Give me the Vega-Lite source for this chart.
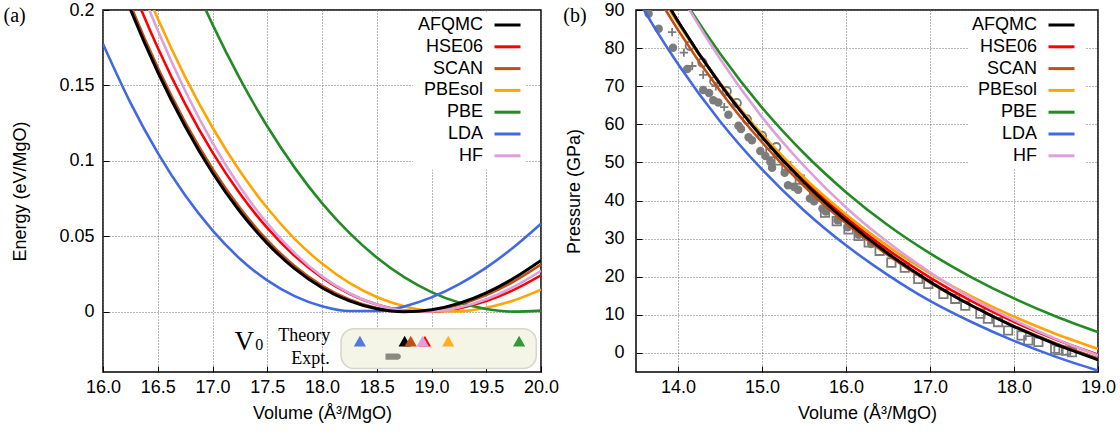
{
"$schema":"https://vega.github.io/schema/vega-lite/v6.json",
"background":"white",
"padding":{"left":2,"top":0,"right":4,"bottom":4},
"spacing":2,
"config":{
 "font":"Liberation Sans",
 "view":{"stroke":"#000","strokeWidth":1.5},
 "axis":{"grid":true,"gridColor":"#707070","gridDash":[1,2],"gridWidth":1,"gridOpacity":1,"domain":false,"ticks":true,"tickSize":-6,"tickColor":"#000","tickWidth":1,"labelFontSize":18,"titleFontSize":18,"labelColor":"#000","titleColor":"#000","titleFontWeight":"normal","labelFlush":false,"labelOverlap":false,"labelFont":"Liberation Sans","titleFont":"Liberation Sans"},
 "axisX":{"labelPadding":12,"titlePadding":8}
},
"datasets":{
 "energy":[
  {"method":"AFQMC","V":16,"E":0.2481},{"method":"AFQMC","V":16.25,"E":0.2005},{"method":"AFQMC","V":16.5,"E":0.1589},{"method":"AFQMC","V":16.75,"E":0.1229},{"method":"AFQMC","V":17,"E":0.0921},{"method":"AFQMC","V":17.25,"E":0.0664},{"method":"AFQMC","V":17.5,"E":0.0453},{"method":"AFQMC","V":17.75,"E":0.0285},{"method":"AFQMC","V":18,"E":0.0159},{"method":"AFQMC","V":18.25,"E":0.0071},{"method":"AFQMC","V":18.5,"E":0.0019},{"method":"AFQMC","V":18.75,"E":0.0},{"method":"AFQMC","V":19,"E":0.0013},{"method":"AFQMC","V":19.25,"E":0.0055},{"method":"AFQMC","V":19.5,"E":0.0125},{"method":"AFQMC","V":19.75,"E":0.0221},{"method":"AFQMC","V":20,"E":0.034},
  {"method":"HSE06","V":16,"E":0.2663},{"method":"HSE06","V":16.25,"E":0.2178},{"method":"HSE06","V":16.5,"E":0.175},{"method":"HSE06","V":16.75,"E":0.1377},{"method":"HSE06","V":17,"E":0.1056},{"method":"HSE06","V":17.25,"E":0.0783},{"method":"HSE06","V":17.5,"E":0.0555},{"method":"HSE06","V":17.75,"E":0.037},{"method":"HSE06","V":18,"E":0.0226},{"method":"HSE06","V":18.25,"E":0.0119},{"method":"HSE06","V":18.5,"E":0.0047},{"method":"HSE06","V":18.75,"E":0.0009},{"method":"HSE06","V":19,"E":0.0001},{"method":"HSE06","V":19.25,"E":0.0022},{"method":"HSE06","V":19.5,"E":0.007},{"method":"HSE06","V":19.75,"E":0.0144},{"method":"HSE06","V":20,"E":0.0241},
  {"method":"SCAN","V":16,"E":0.251},{"method":"SCAN","V":16.25,"E":0.2035},{"method":"SCAN","V":16.5,"E":0.1618},{"method":"SCAN","V":16.75,"E":0.1257},{"method":"SCAN","V":17,"E":0.0948},{"method":"SCAN","V":17.25,"E":0.0688},{"method":"SCAN","V":17.5,"E":0.0474},{"method":"SCAN","V":17.75,"E":0.0303},{"method":"SCAN","V":18,"E":0.0173},{"method":"SCAN","V":18.25,"E":0.0081},{"method":"SCAN","V":18.5,"E":0.0024},{"method":"SCAN","V":18.75,"E":0.0001},{"method":"SCAN","V":19,"E":0.0009},{"method":"SCAN","V":19.25,"E":0.0046},{"method":"SCAN","V":19.5,"E":0.011},{"method":"SCAN","V":19.75,"E":0.02},{"method":"SCAN","V":20,"E":0.0313},
  {"method":"PBEsol","V":16,"E":0.2877},{"method":"PBEsol","V":16.25,"E":0.2382},{"method":"PBEsol","V":16.5,"E":0.1943},{"method":"PBEsol","V":16.75,"E":0.1557},{"method":"PBEsol","V":17,"E":0.1221},{"method":"PBEsol","V":17.25,"E":0.0932},{"method":"PBEsol","V":17.5,"E":0.0687},{"method":"PBEsol","V":17.75,"E":0.0483},{"method":"PBEsol","V":18,"E":0.0319},{"method":"PBEsol","V":18.25,"E":0.0191},{"method":"PBEsol","V":18.5,"E":0.0097},{"method":"PBEsol","V":18.75,"E":0.0036},{"method":"PBEsol","V":19,"E":0.0005},{"method":"PBEsol","V":19.25,"E":0.0002},{"method":"PBEsol","V":19.5,"E":0.0026},{"method":"PBEsol","V":19.75,"E":0.0074},{"method":"PBEsol","V":20,"E":0.0146},
  {"method":"PBE","V":16.5,"E":0.2769},{"method":"PBE","V":16.75,"E":0.2312},{"method":"PBE","V":17,"E":0.1905},{"method":"PBE","V":17.25,"E":0.1545},{"method":"PBE","V":17.5,"E":0.1229},{"method":"PBE","V":17.75,"E":0.0955},{"method":"PBE","V":18,"E":0.072},{"method":"PBE","V":18.25,"E":0.0522},{"method":"PBE","V":18.5,"E":0.0359},{"method":"PBE","V":18.75,"E":0.0229},{"method":"PBE","V":19,"E":0.013},{"method":"PBE","V":19.25,"E":0.006},{"method":"PBE","V":19.5,"E":0.0018},{"method":"PBE","V":19.75,"E":0.0},{"method":"PBE","V":20,"E":0.0007},
  {"method":"LDA","V":16,"E":0.1775},{"method":"LDA","V":16.25,"E":0.1386},{"method":"LDA","V":16.5,"E":0.1053},{"method":"LDA","V":16.75,"E":0.0771},{"method":"LDA","V":17,"E":0.0539},{"method":"LDA","V":17.25,"E":0.0351},{"method":"LDA","V":17.5,"E":0.0207},{"method":"LDA","V":17.75,"E":0.0103},{"method":"LDA","V":18,"E":0.0036},{"method":"LDA","V":18.25,"E":0.0004},{"method":"LDA","V":18.5,"E":0.0004},{"method":"LDA","V":18.75,"E":0.0035},{"method":"LDA","V":19,"E":0.0095},{"method":"LDA","V":19.25,"E":0.0181},{"method":"LDA","V":19.5,"E":0.0292},{"method":"LDA","V":19.75,"E":0.0427},{"method":"LDA","V":20,"E":0.0583},
  {"method":"HF","V":16,"E":0.2846},{"method":"HF","V":16.25,"E":0.2324},{"method":"HF","V":16.5,"E":0.1865},{"method":"HF","V":16.75,"E":0.1465},{"method":"HF","V":17,"E":0.112},{"method":"HF","V":17.25,"E":0.0828},{"method":"HF","V":17.5,"E":0.0585},{"method":"HF","V":17.75,"E":0.0388},{"method":"HF","V":18,"E":0.0234},{"method":"HF","V":18.25,"E":0.0122},{"method":"HF","V":18.5,"E":0.0047},{"method":"HF","V":18.75,"E":0.0007},{"method":"HF","V":19,"E":0.0002},{"method":"HF","V":19.25,"E":0.0027},{"method":"HF","V":19.5,"E":0.0082},{"method":"HF","V":19.75,"E":0.0164},{"method":"HF","V":20,"E":0.0271}
 ],
 "pressure":[
  {"method":"HSE06","V":13.5,"P":106.09},{"method":"HSE06","V":13.75,"P":96.11},{"method":"HSE06","V":14,"P":86.95},{"method":"HSE06","V":14.5,"P":70.79},{"method":"HSE06","V":15,"P":57.1},{"method":"HSE06","V":15.5,"P":45.46},{"method":"HSE06","V":16,"P":35.53},{"method":"HSE06","V":16.5,"P":27.05},{"method":"HSE06","V":17,"P":19.78},{"method":"HSE06","V":17.5,"P":13.53},{"method":"HSE06","V":18,"P":8.16},{"method":"HSE06","V":18.5,"P":3.54},{"method":"HSE06","V":19,"P":-0.45},
  {"method":"SCAN","V":13.5,"P":103.7},{"method":"SCAN","V":13.75,"P":93.83},{"method":"SCAN","V":14,"P":84.78},{"method":"SCAN","V":14.5,"P":68.81},{"method":"SCAN","V":15,"P":55.29},{"method":"SCAN","V":15.5,"P":43.8},{"method":"SCAN","V":16,"P":34.01},{"method":"SCAN","V":16.5,"P":25.64},{"method":"SCAN","V":17,"P":18.48},{"method":"SCAN","V":17.5,"P":12.33},{"method":"SCAN","V":18,"P":7.04},{"method":"SCAN","V":18.5,"P":2.5},{"method":"SCAN","V":19,"P":-1.42},
  {"method":"PBEsol","V":13.5,"P":105.17},{"method":"PBEsol","V":13.75,"P":95.44},{"method":"PBEsol","V":14,"P":86.51},{"method":"PBEsol","V":14.5,"P":70.76},{"method":"PBEsol","V":15,"P":57.4},{"method":"PBEsol","V":15.5,"P":46.03},{"method":"PBEsol","V":16,"P":36.33},{"method":"PBEsol","V":16.5,"P":28.03},{"method":"PBEsol","V":17,"P":20.91},{"method":"PBEsol","V":17.5,"P":14.8},{"method":"PBEsol","V":18,"P":9.53},{"method":"PBEsol","V":18.5,"P":4.99},{"method":"PBEsol","V":19,"P":1.07},
  {"method":"PBE","V":13.5,"P":114.5},{"method":"PBE","V":13.75,"P":104.4},{"method":"PBE","V":14,"P":95.2},{"method":"PBE","V":14.5,"P":78.6},{"method":"PBE","V":15,"P":64.4},{"method":"PBE","V":15.5,"P":52.4},{"method":"PBE","V":16,"P":42.2},{"method":"PBE","V":16.5,"P":33.5},{"method":"PBE","V":17,"P":26.13},{"method":"PBE","V":17.5,"P":19.79},{"method":"PBE","V":18,"P":14.31},{"method":"PBE","V":18.5,"P":9.57},{"method":"PBE","V":19,"P":5.47},
  {"method":"LDA","V":13.5,"P":93.61},{"method":"LDA","V":13.75,"P":84.33},{"method":"LDA","V":14,"P":75.82},{"method":"LDA","V":14.5,"P":60.82},{"method":"LDA","V":15,"P":48.15},{"method":"LDA","V":15.5,"P":37.39},{"method":"LDA","V":16,"P":28.24},{"method":"LDA","V":16.5,"P":20.44},{"method":"LDA","V":17,"P":13.66},{"method":"LDA","V":17.5,"P":8.06},{"method":"LDA","V":18,"P":3.17},{"method":"LDA","V":18.5,"P":-1.03},{"method":"LDA","V":19,"P":-4.64},
  {"method":"HF","V":13.5,"P":116.0},{"method":"HF","V":13.75,"P":105.2},{"method":"HF","V":14,"P":95.2},{"method":"HF","V":14.5,"P":77.2},{"method":"HF","V":15,"P":61.9},{"method":"HF","V":15.5,"P":49.1},{"method":"HF","V":16,"P":38.19},{"method":"HF","V":16.5,"P":29.03},{"method":"HF","V":17,"P":21.18},{"method":"HF","V":17.5,"P":14.32},{"method":"HF","V":18,"P":8.64},{"method":"HF","V":18.5,"P":3.65},{"method":"HF","V":19,"P":-0.65},
  {"method":"AFQMC","V":13.5,"P":106.56},{"method":"AFQMC","V":13.75,"P":96.38},{"method":"AFQMC","V":14,"P":87.05},{"method":"AFQMC","V":14.5,"P":70.59},{"method":"AFQMC","V":15,"P":56.65},{"method":"AFQMC","V":15.5,"P":44.8},{"method":"AFQMC","V":16,"P":34.71},{"method":"AFQMC","V":16.5,"P":26.09},{"method":"AFQMC","V":17,"P":18.71},{"method":"AFQMC","V":17.5,"P":12.38},{"method":"AFQMC","V":18,"P":6.93},{"method":"AFQMC","V":18.5,"P":2.25},{"method":"AFQMC","V":19,"P":-1.78}
 ],
 "v0":[
  {"method":"LDA","V0":18.346},{"method":"AFQMC","V0":18.755},{"method":"HSE06","V0":18.94},{"method":"SCAN","V0":18.81},{"method":"HF","V0":18.92},{"method":"PBEsol","V0":19.153},{"method":"PBE","V0":19.8}
 ],
 "v0expt":[{"lo":18.58,"hi":18.72}],
 "expt":[
  {"type":"circle","V":13.65,"P":89.0},{"type":"circle","V":13.77,"P":85.1},{"type":"circle","V":13.94,"P":80.1},{"type":"circle","V":14.11,"P":74.5},{"type":"circle","V":14.3,"P":69.0},{"type":"circle","V":14.37,"P":68.2},{"type":"circle","V":14.42,"P":66.3},{"type":"circle","V":14.48,"P":65.7},{"type":"circle","V":14.6,"P":62.5},{"type":"circle","V":14.72,"P":59.6},{"type":"circle","V":14.75,"P":58.8},{"type":"circle","V":14.84,"P":56.6},{"type":"circle","V":14.88,"P":55.8},{"type":"circle","V":14.98,"P":53.0},{"type":"circle","V":15.04,"P":51.7},{"type":"circle","V":15.1,"P":50.2},{"type":"circle","V":15.12,"P":48.6},{"type":"circle","V":15.27,"P":47.3},{"type":"circle","V":15.31,"P":44.0},{"type":"circle","V":15.38,"P":43.6},{"type":"circle","V":15.43,"P":42.8},{"type":"circle","V":15.57,"P":40.5},{"type":"circle","V":15.62,"P":39.8},{"type":"circle","V":15.72,"P":37.9},{"type":"circle","V":15.76,"P":37.1},{"type":"circle","V":15.9,"P":34.8},{"type":"circle","V":16.02,"P":33.0},{"type":"circle","V":16.15,"P":31.0},{"type":"circle","V":16.3,"P":28.6},
  {"type":"square","V":15.1,"P":52.5},{"type":"square","V":15.2,"P":50.5},{"type":"square","V":15.29,"P":49.0},{"type":"square","V":15.45,"P":45.5},{"type":"square","V":15.62,"P":41.0},{"type":"square","V":15.75,"P":36.8},{"type":"square","V":15.89,"P":34.6},{"type":"square","V":16.03,"P":32.4},{"type":"square","V":16.15,"P":30.7},{"type":"square","V":16.27,"P":29.0},{"type":"square","V":16.4,"P":26.8},{"type":"square","V":16.54,"P":23.7},{"type":"square","V":16.7,"P":22.4},{"type":"square","V":16.86,"P":19.4},{"type":"square","V":16.98,"P":18.1},{"type":"square","V":17.16,"P":15.5},{"type":"square","V":17.3,"P":14.2},{"type":"square","V":17.42,"P":12.4},{"type":"square","V":17.6,"P":10.3},{"type":"square","V":17.69,"P":9.0},{"type":"square","V":17.81,"P":8.1},{"type":"square","V":17.93,"P":5.9},{"type":"square","V":18.09,"P":4.6},{"type":"square","V":18.17,"P":3.3},{"type":"square","V":18.29,"P":2.9},{"type":"square","V":18.49,"P":1.1},{"type":"square","V":18.53,"P":0.7},{"type":"square","V":18.62,"P":0.6},{"type":"square","V":18.69,"P":0.2},
  {"type":"ocircle","V":14.14,"P":80.6},{"type":"ocircle","V":14.29,"P":76.2},{"type":"ocircle","V":14.43,"P":71.3},{"type":"ocircle","V":14.58,"P":68.7},{"type":"ocircle","V":14.7,"P":65.6},{"type":"ocircle","V":14.82,"P":61.3},{"type":"ocircle","V":15.0,"P":57.0},{"type":"ocircle","V":15.17,"P":54.0},
  {"type":"plus","V":13.93,"P":84.2},{"type":"plus","V":14.07,"P":78.8},{"type":"plus","V":14.17,"P":75.3},{"type":"plus","V":14.3,"P":73.0},{"type":"plus","V":14.45,"P":70.0},{"type":"plus","V":14.55,"P":64.5}
 ]
},
"resolve":{"scale":{"color":"independent"},"legend":{"color":"independent"}},
"hconcat":[
 {
  "width":438,"height":362,
  "layer":[
   {"data":{"name":"energy"},"transform":[{"filter":"datum.method !== 'AFQMC'"}],
    "mark":{"type":"line","clip":true,"interpolate":"monotone","strokeWidth":2.6},
    "encoding":{
     "x":{"field":"V","type":"quantitative","scale":{"domain":[16,20],"nice":false,"zero":false},"axis":{"values":[16,16.5,17,17.5,18,18.5,19,19.5,20],"format":".1f","title":"Volume (Å³/MgO)","grid":true,"gridColor":"#707070","gridDash":[1,2]}},
     "y":{"field":"E","type":"quantitative","scale":{"domain":[-0.04,0.2],"nice":false,"zero":false},"axis":{"values":[0,0.05,0.1,0.15,0.2],"format":"~g","title":"Energy (eV/MgO)","grid":true,"gridColor":"#707070","gridDash":[1,2],"labelPadding":15,"titlePadding":29}},
     "color":{"field":"method","type":"nominal","scale":{"domain":["AFQMC","HSE06","SCAN","PBEsol","PBE","LDA","HF"],"range":["#000000","#ff0000","#c24e14","#ffa500","#228b22","#4169e1","#dda0dd"]},
      "legend":{"orient":"none","legendX":393,"legendY":3.5,"title":null,"symbolType":"M-1.3,0H1.3","symbolSize":400,"symbolStrokeWidth":3,"labelAlign":"right","labelOffset":-36,"labelFontSize":18,"labelFont":"Liberation Sans","labelColor":"#000","rowPadding":0.8,"padding":0,"labelLimit":300}}
    }},
   {"data":{"name":"energy"},"transform":[{"filter":"datum.method === 'AFQMC'"}],
    "mark":{"type":"line","clip":true,"interpolate":"monotone","strokeWidth":3,"color":"#000"},
    "encoding":{"x":{"field":"V","type":"quantitative"},"y":{"field":"E","type":"quantitative"}}},
   {"data":{"values":[{}]},"mark":{"type":"rect","fill":"white"},
    "encoding":{"x":{"datum":18.83,"type":"quantitative"},"x2":{"datum":19.86},"y":{"datum":0.0943,"type":"quantitative"},"y2":{"datum":0.1985}}},
   {"data":{"values":[{}]},"mark":{"type":"rect","fill":"#f4f5e6","stroke":"#d6d6cc","strokeWidth":1.5,"cornerRadius":13},
    "encoding":{"x":{"datum":18.174,"type":"quantitative"},"x2":{"datum":19.957},"y":{"datum":-0.0113,"type":"quantitative"},"y2":{"datum":-0.0377}}},
   {"data":{"name":"v0"},
    "mark":{"type":"point","shape":"triangle-up","filled":true,"size":150,"opacity":1},
    "encoding":{"x":{"field":"V0","type":"quantitative"},"y":{"datum":-0.0195,"type":"quantitative"},
     "fill":{"field":"method","type":"nominal","scale":{"domain":["AFQMC","HSE06","SCAN","PBEsol","PBE","LDA","HF"],"range":["#000000","#ff0000","#c24e14","#ffb020","#30993a","#5577e0","#dda0dd"]},"legend":null}}},
   {"data":{"name":"v0expt"},
    "mark":{"type":"rect","fill":"#8a8a80","cornerRadiusTopRight":4,"cornerRadiusBottomRight":4},
    "encoding":{"x":{"field":"lo","type":"quantitative"},"x2":{"field":"hi"},"y":{"datum":-0.0278,"type":"quantitative"},"y2":{"datum":-0.0318}}},
   {"data":{"values":[{}]},"mark":{"type":"text","text":"V","font":"Liberation Serif","fontSize":27,"align":"left","baseline":"alphabetic","color":"#000"},
    "encoding":{"x":{"datum":17.2,"type":"quantitative"},"y":{"datum":-0.0252,"type":"quantitative"}}},
   {"data":{"values":[{}]},"mark":{"type":"text","text":"0","font":"Liberation Serif","fontSize":16,"align":"left","baseline":"alphabetic","color":"#000"},
    "encoding":{"x":{"datum":17.39,"type":"quantitative"},"y":{"datum":-0.0257,"type":"quantitative"}}},
   {"data":{"values":[{}]},"mark":{"type":"text","text":"Theory","font":"Liberation Serif","fontSize":18,"align":"right","baseline":"alphabetic","color":"#000"},
    "encoding":{"x":{"datum":18.075,"type":"quantitative"},"y":{"datum":-0.0197,"type":"quantitative"}}},
   {"data":{"values":[{}]},"mark":{"type":"text","text":"Expt.","font":"Liberation Serif","fontSize":18,"align":"right","baseline":"alphabetic","color":"#000"},
    "encoding":{"x":{"datum":18.07,"type":"quantitative"},"y":{"datum":-0.0344,"type":"quantitative"}}},
   {"data":{"values":[{}]},"mark":{"type":"text","text":"(a)","font":"Liberation Serif","fontSize":20,"align":"center","baseline":"middle","color":"#000"},
    "encoding":{"x":{"datum":15.193,"type":"quantitative"},"y":{"datum":0.196,"type":"quantitative"}}}
  ]
 },
 {
  "width":462,"height":362,
  "layer":[
   {"data":{"name":"expt"},"transform":[{"filter":"datum.type === 'circle'"}],
    "mark":{"type":"point","shape":"circle","filled":true,"size":72,"color":"#7c7c7c","opacity":1,"clip":true},
    "encoding":{
     "x":{"field":"V","type":"quantitative","scale":{"domain":[13.5,19],"nice":false,"zero":false},"axis":{"values":[14,15,16,17,18,19],"format":".1f","title":"Volume (Å³/MgO)","grid":true,"gridColor":"#707070","gridDash":[1,2]}},
     "y":{"field":"P","type":"quantitative","scale":{"domain":[-5,90],"nice":false,"zero":false},"axis":{"values":[0,10,20,30,40,50,60,70,80,90],"title":"Pressure (GPa)","grid":true,"gridColor":"#707070","gridDash":[1,2],"labelPadding":18,"titlePadding":20}}}},
   {"data":{"name":"expt"},"transform":[{"filter":"datum.type !== 'circle'"}],
    "mark":{"type":"point","filled":false,"size":70,"color":"#7c7c7c","strokeWidth":1.8,"opacity":1,"clip":true},
    "encoding":{"x":{"field":"V","type":"quantitative"},"y":{"field":"P","type":"quantitative"},
     "shape":{"field":"type","type":"nominal","scale":{"domain":["square","ocircle","plus"],"range":["square","circle","M-1,0H1M0,-1V1"]},"legend":null}}},
   {"data":{"name":"pressure"},"transform":[{"filter":"datum.method !== 'AFQMC'"}],
    "mark":{"type":"line","clip":true,"interpolate":"monotone","strokeWidth":2.6},
    "encoding":{
     "x":{"field":"V","type":"quantitative"},
     "y":{"field":"P","type":"quantitative"},
     "color":{"field":"method","type":"nominal","scale":{"domain":["AFQMC","HSE06","SCAN","PBEsol","PBE","LDA","HF"],"range":["#000000","#ff0000","#c24e14","#ffa500","#228b22","#4169e1","#dda0dd"]},
      "legend":{"orient":"none","legendX":414,"legendY":3.5,"title":null,"symbolType":"M-1.3,0H1.3","symbolSize":400,"symbolStrokeWidth":3,"labelAlign":"right","labelOffset":-36,"labelFontSize":18,"labelFont":"Liberation Sans","labelColor":"#000","rowPadding":0.8,"padding":0,"labelLimit":300}}
    }},
   {"data":{"name":"pressure"},"transform":[{"filter":"datum.method === 'AFQMC'"}],
    "mark":{"type":"line","clip":true,"interpolate":"monotone","strokeWidth":3,"color":"#000"},
    "encoding":{"x":{"field":"V","type":"quantitative"},"y":{"field":"P","type":"quantitative"}}},
   {"data":{"values":[{}]},"mark":{"type":"rect","fill":"white"},
    "encoding":{"x":{"datum":17.46,"type":"quantitative"},"x2":{"datum":18.85},"y":{"datum":48.2,"type":"quantitative"},"y2":{"datum":89.5}}},
   {"data":{"values":[{}]},"mark":{"type":"text","text":"(b)","font":"Liberation Serif","fontSize":20,"align":"center","baseline":"middle","color":"#000"},
    "encoding":{"x":{"datum":12.774,"type":"quantitative"},"y":{"datum":88.4,"type":"quantitative"}}}
  ]
 }
]
}
